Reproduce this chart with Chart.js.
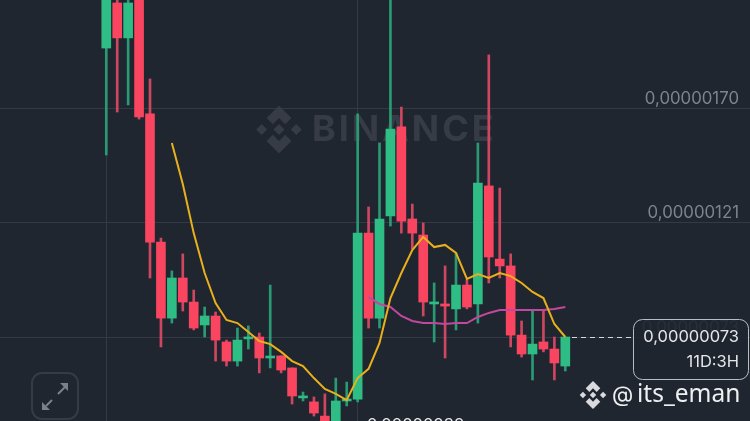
<!DOCTYPE html>
<html>
<head>
<meta charset="utf-8">
<style>
  html, body { margin: 0; padding: 0; background: #1f2630; overflow: hidden; }
  canvas { display: block; }
</style>
<script src="https://cdn.jsdelivr.net/npm/chart.js@4"></script>
</head>
<body>
<canvas id="chart" width="750" height="421"></canvas>
<script>
// prices are in units of 0.00000001
const opens = [195.4, 214.5, 199.7, 217.0, 167.5, 113.2, 81.0, 98.0, 87.8, 78.1, 81.9, 70.9, 62.8, 72.2, 73.0, 64.1, 65.0, 59.9, 47.2, 45.5, 39.5, 37.5, 45.9, 46.7, 117.0, 81.0, 124.3, 162.0, 123.0, 116.2, 87.0, 87.0, 84.9, 95.0, 87.0, 137.0, 106.0, 103.1, 73.8, 65.8, 70.9, 67.9, 60.7];
const closes = [220.0, 199.7, 214.5, 166.2, 113.2, 81.0, 98.0, 87.8, 76.8, 81.9, 71.7, 62.8, 71.7, 72.6, 64.1, 64.5, 59.0, 48.0, 47.6, 40.8, 37.5, 45.9, 46.7, 117.0, 81.0, 123.0, 161.1, 122.1, 117.0, 87.8, 87.8, 86.1, 95.0, 85.7, 138.2, 106.9, 103.1, 73.8, 65.8, 70.0, 67.9, 62.0, 73.0];
const highs = [224.2, 222.0, 222.0, 220.0, 182.3, 114.9, 101.0, 108.2, 92.9, 85.7, 83.6, 71.7, 76.8, 77.7, 74.7, 95.0, 65.0, 59.9, 49.7, 47.6, 48.9, 55.6, 53.9, 167.5, 128.1, 155.2, 224.0, 170.4, 129.3, 121.3, 95.9, 103.1, 108.6, 97.2, 155.2, 192.5, 136.1, 108.2, 79.8, 84.0, 84.4, 73.0, 73.0];
const lows = [150.1, 168.3, 171.3, 165.3, 98.0, 68.8, 78.9, 84.0, 76.0, 73.0, 62.8, 60.7, 60.7, 67.9, 57.8, 59.9, 57.8, 44.6, 45.9, 39.5, 37.5, 37.5, 43.8, 45.5, 76.8, 76.8, 120.0, 117.0, 110.3, 81.9, 70.9, 64.1, 76.0, 84.9, 78.9, 95.9, 98.0, 68.8, 64.5, 54.8, 66.7, 54.8, 58.6];

// yellow average starts at candle 6, magenta one at candle 24
const maShortStart = 6;
const maShort = [155.2, 137.8, 117.0, 100.1, 87.4, 80.2, 78.9, 75.1, 71.3, 70.0, 66.7, 62.8, 60.7, 55.6, 51.0, 48.9, 46.3, 55.6, 59.5, 70.5, 89.5, 100.1, 109.8, 115.4, 111.1, 112.0, 108.6, 97.6, 99.7, 98.0, 100.1, 98.8, 95.9, 92.1, 89.5, 78.5, 73.0];
const maLongStart = 24;
const maLong = [89.9, 87.0, 85.7, 81.9, 79.8, 78.9, 78.9, 78.5, 78.9, 78.9, 81.5, 83.2, 84.4, 84.4, 84.4, 84.4, 84.4, 84.9, 85.7];

const tickValues = [73, 121.5, 170];
const tickLabels = ["0,00000073", "0,00000121", "0,00000170"];
const verticalLines = [0, 23];

const lastPriceLabel = "0,00000073";
const countdownLabel = "11D:3H";
const lowLabel = "0,00000038";
const watermark = "BINANCE";
const handle = "its_eman";

const GREEN = "#2ebd85";
const RED = "#f9455f";
const GREEN_WICK = "#2a9a74";
const RED_WICK = "#cf4660";
const WATERMARK = "#363b46";
const FONT = "Inter, 'Noto Sans', sans-serif";

const isUp = opens.map((open, i) => closes[i] >= open);

function binanceLogo(ctx, cx, cy, r, color) {
  const shapes = [
    [[0, -0.23], [0.23, 0], [0, 0.23], [-0.23, 0]],
    [[-0.72, -0.23], [-0.49, 0], [-0.72, 0.23], [-0.95, 0]],
    [[0.72, -0.23], [0.95, 0], [0.72, 0.23], [0.49, 0]],
    [[-0.52, -0.48], [0, -1], [0.52, -0.48], [0.26, -0.22], [0, -0.48], [-0.26, -0.22]],
    [[-0.52, 0.48], [0, 1], [0.52, 0.48], [0.26, 0.22], [0, 0.48], [-0.26, 0.22]],
  ];
  ctx.fillStyle = color;
  shapes.forEach((shape) => {
    ctx.beginPath();
    shape.forEach(([x, y]) => ctx.lineTo(cx + x * r, cy + y * r));
    ctx.closePath();
    ctx.fill();
  });
}

const backdrop = {
  id: "backdrop",
  beforeDatasetsDraw(chart) {
    const ctx = chart.ctx;
    ctx.save();
    binanceLogo(ctx, 279, 129.5, 24, WATERMARK);
    ctx.fillStyle = WATERMARK;
    ctx.font = "700 36px " + FONT;
    ctx.letterSpacing = "2.9px";
    ctx.textBaseline = "middle";
    ctx.fillText(watermark, 312, 130);
    ctx.restore();
  },
};

const overlay = {
  id: "overlay",
  afterDraw(chart) {
    const ctx = chart.ctx;
    const y = chart.scales.y.getPixelForValue(closes[closes.length - 1]);
    ctx.save();

    // dashed last price line
    ctx.strokeStyle = "#d5d7da";
    ctx.lineWidth = 1;
    ctx.setLineDash([5, 4]);
    ctx.beginPath();
    ctx.moveTo(572, y + 0.5);
    ctx.lineTo(631, y + 0.5);
    ctx.stroke();
    ctx.setLineDash([]);

    // price box
    ctx.fillStyle = "rgba(31, 38, 48, 0.9)";
    ctx.strokeStyle = "#b9bcc1";
    ctx.beginPath();
    ctx.roundRect(633.5, 319.5, 115, 60, 9);
    ctx.fill();
    ctx.stroke();

    ctx.fillStyle = "#e4e5e7";
    ctx.font = "400 16.5px " + FONT;
    ctx.textAlign = "right";
    ctx.textBaseline = "middle";
    ctx.fillText(lastPriceLabel, 739, 337);
    ctx.fillText(countdownLabel, 739, 362);

    // low marker, cut off by the bottom edge
    ctx.textAlign = "left";
    ctx.fillText(lowLabel, 367, 425);

    // handle
    binanceLogo(ctx, 593, 395, 14, "#d8dadd");
    ctx.fillStyle = "#eeeff0";
    ctx.font = "400 22px " + FONT;
    ctx.fillText("@", 612, 395);
    ctx.font = "400 24.5px 'Noto Sans', sans-serif";
    ctx.fillText(handle, 637, 395);

    // expand button
    ctx.strokeStyle = WATERMARK;
    ctx.lineWidth = 2;
    ctx.beginPath();
    ctx.roundRect(32, 373, 46, 46, 10);
    ctx.stroke();
    ctx.strokeStyle = "#7b808b";
    ctx.fillStyle = "#7b808b";
    ctx.beginPath();
    ctx.moveTo(46, 406);
    ctx.lineTo(52, 400);
    ctx.moveTo(58, 394);
    ctx.lineTo(65, 387);
    ctx.stroke();
    ctx.beginPath();
    ctx.moveTo(42, 410);
    ctx.lineTo(42, 402);
    ctx.lineTo(50, 410);
    ctx.closePath();
    ctx.moveTo(68, 383);
    ctx.lineTo(68, 391);
    ctx.lineTo(60, 383);
    ctx.closePath();
    ctx.fill();
    ctx.restore();
  },
};

new Chart(document.querySelector("#chart").getContext("2d"), {
  type: "bar",
  data: {
    datasets: [
      {
        label: "Body",
        order: 2,
        barThickness: 9,
        minBarLength: 2,
        backgroundColor: isUp.map((up) => (up ? GREEN : RED)),
        data: opens.map((open, i) => ({ x: i, y: [open, closes[i]] })),
      },
      {
        label: "Wick",
        order: 3,
        barThickness: 2,
        backgroundColor: isUp.map((up) => (up ? GREEN_WICK : RED_WICK)),
        data: lows.map((low, i) => ({ x: i, y: [low, highs[i]] })),
      },
      {
        type: "line",
        label: "MA short",
        order: 1,
        borderColor: "#e9b01c",
        borderWidth: 2,
        pointRadius: 0,
        data: maShort.map((v, i) => ({ x: i + maShortStart, y: v })),
      },
      {
        type: "line",
        label: "MA long",
        order: 1,
        borderColor: "#c2479e",
        borderWidth: 2,
        pointRadius: 0,
        data: maLong.map((v, i) => ({ x: i + maLongStart, y: v })),
      },
    ],
  },
  options: {
    responsive: false,
    animation: false,
    layout: { padding: 0 },
    plugins: { legend: { display: false }, tooltip: { enabled: false } },
    datasets: { bar: { grouped: false } },
    scales: {
      x: {
        type: "linear",
        offset: false,
        min: -9.725,
        max: 58.9,
        border: { display: false },
        grid: { color: "#333a45", drawTicks: false, offset: false },
        ticks: { display: false },
        afterBuildTicks(scale) {
          scale.ticks = verticalLines.map((value) => ({ value }));
        },
      },
      y: {
        position: "right",
        min: 37.42,
        max: 215.75,
        border: { display: false },
        grid: { color: "#333a45", drawTicks: false },
        afterBuildTicks(scale) {
          scale.ticks = tickValues.map((value) => ({ value }));
        },
        afterFit(scale) {
          // labels sit inside the plot, let the plot use the whole canvas
          scale.width = 0;
          scale.paddingTop = 0;
          scale.paddingBottom = 0;
        },
        ticks: {
          mirror: true,
          padding: -11,
          labelOffset: -9.5,
          color: "#7d8490",
          font: { family: FONT, size: 16.8 },
          callback: (value) => tickLabels[tickValues.indexOf(value)],
        },
      },
    },
  },
  plugins: [backdrop, overlay],
});
</script>
</body>
</html>
